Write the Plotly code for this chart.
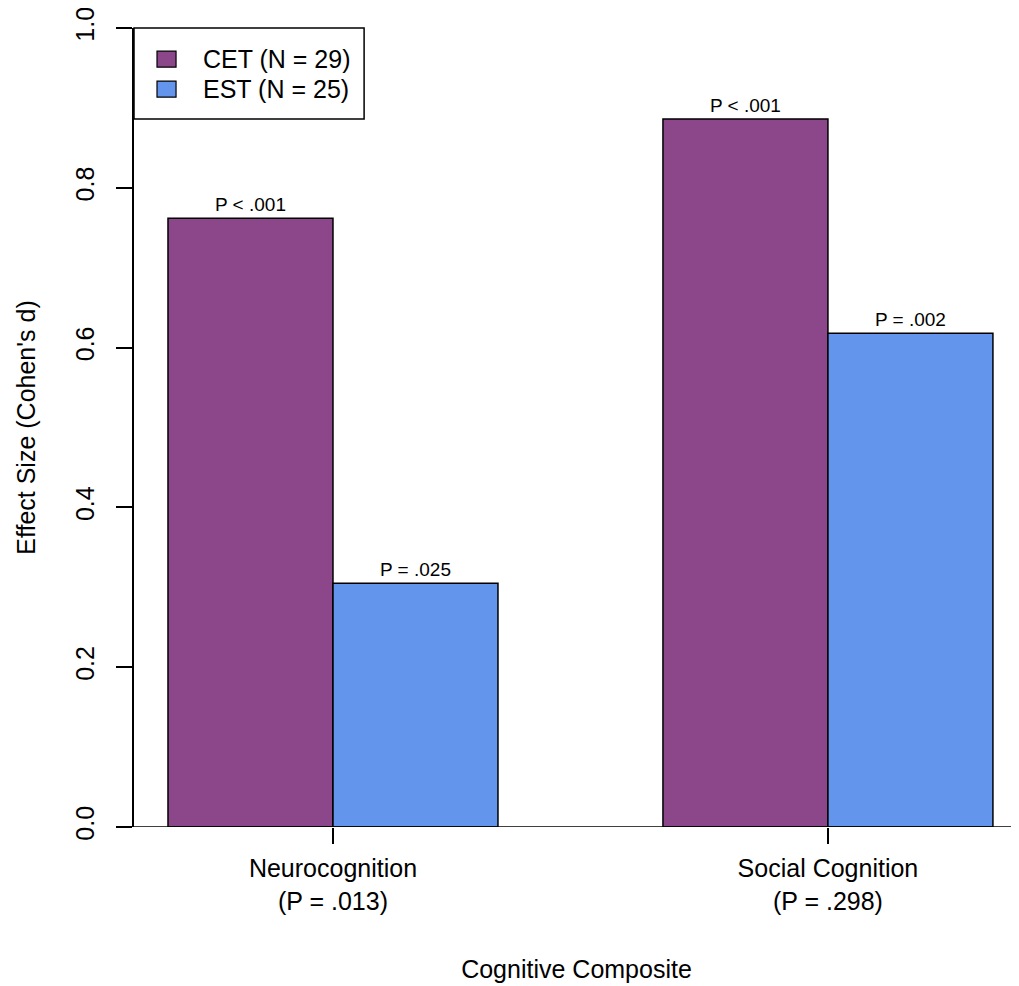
import plotly.graph_objects as go

categories = ["Neurocognition<br>(P = .013)", "Social Cognition<br>(P = .298)"]
cet_values = [0.762, 0.886]
est_values = [0.305, 0.618]
cet_pvals = ["P < .001", "P < .001"]
est_pvals = ["P = .025", "P = .002"]
series_names = ["CET (N = 29)", "EST (N = 25)"]
y_ticks = [0.0, 0.2, 0.4, 0.6, 0.8, 1.0]

CET_COLOR = "#8B4789"
EST_COLOR = "#6495ED"
FONT = "Liberation Sans, Arial, Helvetica, sans-serif"

fig = go.Figure()
for name, vals, ptxt, col in [(series_names[0], cet_values, cet_pvals, CET_COLOR),
                              (series_names[1], est_values, est_pvals, EST_COLOR)]:
    fig.add_trace(go.Bar(
        x=categories, y=vals, name=name, text=ptxt,
        textposition="outside", cliponaxis=False,
        textfont=dict(size=19, color="black", family=FONT),
        marker=dict(color=col, line=dict(color="black", width=1.5)),
        showlegend=False,
    ))

# Hand-drawn legend (box, swatches, labels) in the style of base R
legend_shapes = [dict(type="rect", xref="paper", yref="paper", x0=0, x1=0.26, y0=0.886, y1=1.0,
                      line=dict(color="black", width=1.5), fillcolor="white", layer="above")]
legend_annots = []
for i, (name, col) in enumerate(zip(series_names, [CET_COLOR, EST_COLOR])):
    ytop = 0.971 - i * 0.0375
    legend_shapes.append(dict(type="rect", xref="paper", yref="paper",
                              x0=0.026, x1=0.0475, y0=ytop - 0.020, y1=ytop,
                              line=dict(color="black", width=1.2), fillcolor=col, layer="above"))
    legend_annots.append(dict(xref="paper", yref="paper", x=0.0757, y=ytop - 0.0098,
                              xanchor="left", yanchor="middle", text=name, showarrow=False,
                              font=dict(size=25, family=FONT, color="black")))

fig.update_layout(
    width=1019, height=986,
    margin=dict(l=126, r=8, t=20, b=167, autoexpand=False),
    paper_bgcolor="white", plot_bgcolor="white",
    font=dict(family=FONT, size=25, color="black"),
    barmode="group", bargap=1/3, bargroupgap=0,
    showlegend=False,
    xaxis=dict(
        type="category", categoryorder="array", categoryarray=categories,
        range=[-0.402, 1.386], showgrid=False, zeroline=False, showline=False,
        ticks="outside", ticklen=16, tickwidth=1.5, tickcolor="black",
        ticklabelstandoff=3, automargin=False,
        title=dict(text="Cognitive Composite", standoff=46, font=dict(size=25)),
    ),
    yaxis=dict(
        range=[0, 1], tickvals=y_ticks, ticktext=[f"{v:.1f}" for v in y_ticks],
        showgrid=False, zeroline=False, showline=True, linecolor="black", linewidth=1.5,
        ticks="outside", ticklen=16, tickwidth=1.5, tickcolor="black",
        tickangle=-90, ticklabelstandoff=12, ticklabeloverflow="allow", automargin=False,
        title=dict(text="Effect Size (Cohen's d)", standoff=29, font=dict(size=25)),
    ),
    shapes=[dict(type="line", xref="paper", yref="y", x0=-16/885, x1=1, y0=0, y1=0,
                 line=dict(color="black", width=1.5), layer="above")] + legend_shapes,
    annotations=legend_annots,
)

fig.write_html("out.html")
